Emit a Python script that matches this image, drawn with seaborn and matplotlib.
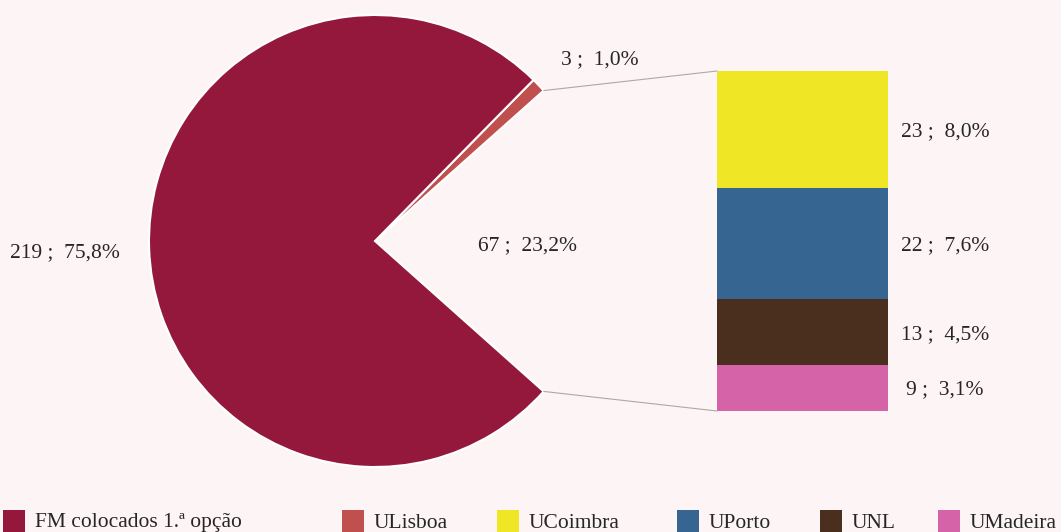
import numpy as np
import pandas as pd
import matplotlib.pyplot as plt
import seaborn as sns
from matplotlib.patches import ConnectionPatch, Rectangle

# pie: the "outras" wedge (67) is exploded into the bar on the right
pie_names = ['Outras', 'ULisboa', 'FM colocados 1.ª opção']
pie_values = [67, 3, 219]
pie_text = ['67 ;  23,2%', '3 ;  1,0%', '219 ;  75,8%']

bar_names = ['UCoimbra', 'UPorto', 'UNL', 'UMadeira']
bar_values = [23, 22, 13, 9]
bar_text = ['23 ;  8,0%', '22 ;  7,6%', '13 ;  4,5%', '9 ;  3,1%']

legend_names = ['FM colocados 1.ª opção', 'ULisboa', 'UCoimbra', 'UPorto', 'UNL', 'UMadeira']

palette = {
    'FM colocados 1.ª opção': '#94183C',
    'ULisboa': '#C0504D',
    'UCoimbra': '#EFE626',
    'UPorto': '#376592',
    'UNL': '#4A2F1F',
    'UMadeira': '#D563A7',
}
bg = '#FDF5F5'

sns.set_theme(style='white', rc={'figure.facecolor': bg, 'axes.facecolor': 'none'})
plt.rcParams['font.family'] = ['Liberation Serif', 'DejaVu Serif']
FS = 15.5

W, H = 1061, 532
fig = plt.figure(figsize=(W / 100, H / 100), dpi=100)


def box(left, top, right, bottom):
    return [left / W, 1 - bottom / H, (right - left) / W, (bottom - top) / H]


# pie
ax_pie = fig.add_axes(box(149, 15, 601, 467))
total = sum(pie_values)
start = -pie_values[0] / total * 180
wedges, _ = ax_pie.pie(pie_values, colors=['none', palette['ULisboa'], palette['FM colocados 1.ª opção']],
                       startangle=start, radius=1,
                       wedgeprops=dict(edgecolor='white', linewidth=1.5))
wedges[0].set_edgecolor('none')
ax_pie.set_xlim(-1, 1)
ax_pie.set_ylim(-1, 1)
ax_pie.axis('off')

ax_pie.text(0.673, -0.02, pie_text[0], ha='center', va='center', fontsize=FS)
ax_pie.text(0.996, 0.80, pie_text[1], ha='center', va='center', fontsize=FS)
ax_pie.text(-1.372, -0.05, pie_text[2], ha='center', va='center', fontsize=FS, clip_on=False)

# stacked bar (cumulative heights drawn largest first)
df = pd.DataFrame({'uni': bar_names, 'n': bar_values})
df['top'] = df['n'][::-1].cumsum()[::-1]
df['mid'] = df['top'] - df['n'] / 2
df['stack'] = ''

ax_bar = fig.add_axes(box(717, 71, 888, 411))
sns.barplot(data=df, x='stack', y='top', hue='uni', palette=palette, dodge=False,
            saturation=1, linewidth=0, legend=False, ax=ax_bar)
ax_bar.set_xlim(-0.4, 0.4)
ax_bar.set_ylim(0, df['top'].max())
ax_bar.axis('off')
for txt, y in zip(bar_text, df['mid']):
    ax_bar.text(0.667, y - 0.4, txt, ha='center', va='center', fontsize=FS, clip_on=False)

# connector lines
ang = np.deg2rad(pie_values[0] / total * 180)
for sgn, yb in [(1, df['top'].max()), (-1, 0)]:
    con = ConnectionPatch(xyA=(np.cos(ang), sgn * np.sin(ang)), coordsA=ax_pie.transData,
                          xyB=(-0.4, yb), coordsB=ax_bar.transData,
                          color='#B0A8A8', linewidth=0.8)
    fig.add_artist(con)

# legend along the bottom edge
legend_x = [3, 342, 497, 677, 820, 938]
for name, x in zip(legend_names, legend_x):
    fig.add_artist(Rectangle((x / W, 0), 22 / W, 22 / H, transform=fig.transFigure,
                             facecolor=palette[name], edgecolor='none'))
    fig.text((x + 32) / W, 1 - 523 / H, name, ha='left', va='center', fontsize=FS)

fig.savefig('out.png', dpi=100, facecolor=bg)
